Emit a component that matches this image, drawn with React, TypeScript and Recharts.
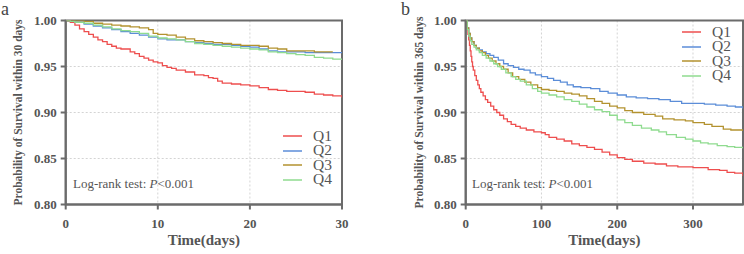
import React from "react";
import { CartesianGrid, Legend, Line, LineChart, ReferenceArea, XAxis, YAxis } from "recharts";

const groups = ["Q1", "Q2", "Q3", "Q4"];
const colors = ["#ee4e4e", "#5b8dd8", "#b3922f", "#8fdb8f"];
const yTicks = [0.8, 0.85, 0.9, 0.95, 1];
const xTicks30 = [0, 10, 20, 30];
const xTicks365 = [0, 100, 200, 300];

// 30-day survival (panel a)
const q1Days30 = [0, 0.5, 1, 1.5, 2, 2.5, 3, 3.5, 4, 4.5, 5, 5.5, 6, 7, 7.5, 8, 8.5, 9, 9.5, 10, 10.5, 11, 11.5, 12, 13, 14, 15, 15.5, 16, 16.5, 17, 18, 19, 20, 21, 22, 23, 24, 25, 26, 27, 28, 29, 30];
const q1Surv30 = [1, 0.998, 0.995, 0.991, 0.988, 0.985, 0.982, 0.979, 0.977, 0.974, 0.972, 0.97, 0.969, 0.966, 0.964, 0.961, 0.959, 0.957, 0.955, 0.954, 0.951, 0.949, 0.948, 0.946, 0.944, 0.941, 0.94, 0.938, 0.937, 0.934, 0.932, 0.931, 0.93, 0.929, 0.927, 0.925, 0.924, 0.923, 0.923, 0.922, 0.92, 0.919, 0.918, 0.916];
const q2Days30 = [0, 0.5, 1, 2, 3, 4, 5, 6, 7, 8, 9, 10, 11, 12, 13, 14, 15, 16, 17, 18, 19, 20, 21, 22, 23, 24, 25, 26, 28, 30];
const q2Surv30 = [1, 0.999, 0.998, 0.996, 0.994, 0.992, 0.99, 0.988, 0.986, 0.984, 0.982, 0.98, 0.979, 0.979, 0.977, 0.976, 0.975, 0.974, 0.974, 0.973, 0.972, 0.971, 0.969, 0.967, 0.966, 0.966, 0.966, 0.965, 0.965, 0.965];
const q3Days30 = [0, 1.5, 2, 3, 4, 5, 6, 7, 8, 9, 9.5, 10, 11, 12, 13, 14, 15, 16, 17, 18, 19, 20, 21, 22, 23, 24, 25, 27, 29];
const q3Surv30 = [1, 1, 0.999, 0.997, 0.996, 0.995, 0.994, 0.993, 0.992, 0.99, 0.986, 0.985, 0.984, 0.982, 0.98, 0.978, 0.977, 0.976, 0.975, 0.974, 0.973, 0.973, 0.972, 0.97, 0.969, 0.967, 0.967, 0.966, 0.966];
const q4Days30 = [0, 0.5, 1, 2, 3, 4, 5, 6, 7, 8, 9, 10, 11, 12, 13, 14, 15, 16, 17, 18, 19, 20, 21, 22, 23, 24, 25, 26, 27, 28, 29, 30];
const q4Surv30 = [1, 0.999, 0.998, 0.997, 0.995, 0.993, 0.991, 0.989, 0.988, 0.986, 0.983, 0.981, 0.98, 0.979, 0.977, 0.975, 0.974, 0.973, 0.972, 0.971, 0.97, 0.969, 0.968, 0.966, 0.965, 0.964, 0.963, 0.962, 0.96, 0.959, 0.958, 0.957];

// 365-day survival (panel b)
const q1Days365 = [0, 1, 2, 3, 4, 5, 6, 7, 8, 9, 10, 12, 14, 16, 18, 20, 23, 26, 29, 33, 37, 41, 45, 50, 55, 60, 66, 72, 80, 90, 100, 105, 110, 120, 130, 140, 150, 160, 170, 180, 190, 200, 210, 220, 235, 250, 265, 280, 300, 320, 335, 345, 355, 366];
const q1Surv365 = [1, 0.995, 0.99, 0.985, 0.979, 0.973, 0.967, 0.961, 0.955, 0.95, 0.946, 0.94, 0.935, 0.93, 0.926, 0.922, 0.918, 0.914, 0.911, 0.907, 0.903, 0.9, 0.897, 0.893, 0.89, 0.887, 0.885, 0.883, 0.881, 0.879, 0.878, 0.876, 0.873, 0.871, 0.869, 0.866, 0.864, 0.862, 0.86, 0.857, 0.854, 0.851, 0.849, 0.847, 0.845, 0.844, 0.842, 0.841, 0.84, 0.838, 0.837, 0.835, 0.834, 0.831];
const q2Days365 = [0, 2, 4, 6, 8, 11, 14, 18, 22, 27, 32, 37, 43, 50, 56, 63, 70, 77, 85, 92, 100, 108, 116, 125, 134, 142, 152, 165, 177, 188, 200, 212, 225, 240, 255, 270, 285, 300, 315, 330, 345, 356, 366];
const q2Surv365 = [1, 0.992, 0.986, 0.981, 0.977, 0.973, 0.97, 0.968, 0.966, 0.964, 0.962, 0.96, 0.957, 0.953, 0.951, 0.949, 0.947, 0.946, 0.943, 0.941, 0.939, 0.937, 0.935, 0.933, 0.93, 0.928, 0.927, 0.926, 0.923, 0.921, 0.919, 0.917, 0.916, 0.915, 0.914, 0.912, 0.91, 0.91, 0.909, 0.908, 0.907, 0.906, 0.904];
const q3Days365 = [0, 2, 4, 6, 8, 11, 14, 18, 22, 26, 30, 35, 40, 45, 50, 56, 62, 70, 78, 86, 95, 100, 110, 120, 130, 140, 150, 160, 170, 180, 190, 200, 210, 220, 235, 250, 260, 275, 290, 300, 315, 325, 340, 350, 366];
const q3Surv365 = [1, 0.992, 0.986, 0.981, 0.977, 0.973, 0.97, 0.967, 0.965, 0.962, 0.959, 0.956, 0.953, 0.95, 0.947, 0.943, 0.939, 0.936, 0.933, 0.93, 0.927, 0.925, 0.924, 0.923, 0.921, 0.92, 0.918, 0.915, 0.912, 0.91, 0.907, 0.905, 0.902, 0.9, 0.898, 0.896, 0.893, 0.892, 0.891, 0.889, 0.887, 0.885, 0.882, 0.881, 0.88];
const q4Days365 = [0, 2, 4, 6, 8, 11, 14, 18, 22, 27, 32, 37, 42, 47, 53, 60, 66, 72, 80, 88, 95, 100, 110, 120, 130, 140, 150, 160, 170, 180, 190, 200, 210, 220, 232, 245, 255, 265, 278, 290, 300, 310, 320, 332, 345, 355, 366];
const q4Surv365 = [1, 0.99, 0.983, 0.978, 0.974, 0.971, 0.968, 0.965, 0.962, 0.959, 0.956, 0.953, 0.95, 0.947, 0.943, 0.939, 0.936, 0.934, 0.93, 0.926, 0.923, 0.921, 0.919, 0.917, 0.914, 0.912, 0.909, 0.906, 0.903, 0.901, 0.897, 0.892, 0.889, 0.886, 0.883, 0.881, 0.879, 0.876, 0.873, 0.871, 0.869, 0.867, 0.866, 0.864, 0.863, 0.862, 0.861];

const zip = (t: number[], s: number[]) => t.map((d, i) => ({ t: d, s: s[i] }));

const panelA = [zip(q1Days30, q1Surv30), zip(q2Days30, q2Surv30), zip(q3Days30, q3Surv30), zip(q4Days30, q4Surv30)];
const panelB = [zip(q1Days365, q1Surv365), zip(q2Days365, q2Surv365), zip(q3Days365, q3Surv365), zip(q4Days365, q4Surv365)];

const serif = "'Liberation Serif', 'Times New Roman', serif";
const axisGray = "#6b6b6b";
const textGray = "#555";
const tickStyle = { fill: textGray, fontSize: 13, fontWeight: 700, fontFamily: serif };

const SideLabel = ({ viewBox, text, cx }: any) => {
  const y = viewBox.y + viewBox.height / 2;
  return (
    <text x={cx} y={y} transform={`rotate(-90 ${cx} ${y})`} textAnchor="middle" dominantBaseline="central"
      fill={textGray} fontSize={11.5} fontWeight={700} fontFamily={serif}>
      {text}
    </text>
  );
};

const BottomLabel = ({ viewBox }: any) => (
  <text x={viewBox.x + viewBox.width / 2} y={viewBox.y + 40.5} textAnchor="middle"
    fill={textGray} fontSize={15} fontWeight={700} fontFamily={serif}>
    Time(days)
  </text>
);

// legend rows: short coloured line + group name
const KeyBox = ({ payload }: any) => (
  <div>
    {(payload || []).map((p: any) => (
      <div key={p.value} style={{ display: "flex", alignItems: "center", height: 14.6 }}>
        <svg width={19} height={4} style={{ marginRight: 11, display: "block" }}>
          <line x1={0} x2={19} y1={2} y2={2} stroke={colors[groups.indexOf(p.value)]} strokeWidth={1.5} />
        </svg>
        <span style={{ fontSize: 15.5, lineHeight: "14.6px", color: textGray, fontFamily: serif }}>{p.value}</span>
      </div>
    ))}
  </div>
);

type PanelProps = {
  series: { t: number; s: number }[][];
  maxDay: number;
  ticks: number[];
  yWidth: number;
  rightGap: number;
  yLabel: string;
  labelX: number;
  legendPos: { left: number; top: number };
};

const SurvivalPanel = ({ series, maxDay, ticks, yWidth, rightGap, yLabel, labelX, legendPos }: PanelProps) => (
  <LineChart width={372} height={254} margin={{ top: 20.5, right: rightGap, left: 0, bottom: 0 }}>
    <CartesianGrid stroke="#d4d4d4" strokeDasharray="2 2" />
    <XAxis type="number" dataKey="t" domain={[0, maxDay]} ticks={ticks} allowDataOverflow height={49.5}
      tick={tickStyle} tickSize={5} tickMargin={9} stroke={axisGray} strokeWidth={2}
      label={<BottomLabel />} />
    <YAxis type="number" domain={[0.8, 1]} ticks={yTicks} allowDataOverflow width={yWidth}
      tick={tickStyle} tickSize={5} tickMargin={4} stroke={axisGray} strokeWidth={2}
      tickFormatter={(v: number) => v.toFixed(2)}
      label={<SideLabel text={yLabel} cx={labelX} />} />
    {series.map((d, i) => (
      <Line key={groups[i]} data={d} dataKey="s" name={groups[i]} type="stepAfter" stroke={colors[i]}
        strokeWidth={1.3} dot={false} activeDot={false} isAnimationActive={false} />
    ))}
    <ReferenceArea x1={0} x2={maxDay} y1={0.8} y2={1} fill="none" stroke={axisGray} strokeWidth={2} />
    <Legend layout="vertical" align="center" verticalAlign="middle" content={<KeyBox />}
      wrapperStyle={{ left: legendPos.left, top: legendPos.top, width: 60, height: 60 }} />
  </LineChart>
);

const noteStyle: React.CSSProperties = {
  position: "absolute", fontSize: 13, fontFamily: serif, color: textGray, whiteSpace: "nowrap", lineHeight: "15px",
};
const tagStyle: React.CSSProperties = {
  position: "absolute", fontSize: 18, fontFamily: serif, color: "#444", lineHeight: "18px",
};

export default function App() {
  return (
    <div style={{ position: "absolute", left: 0, top: 0, width: 744, height: 254, background: "#fff" }}>
      <div style={{ position: "absolute", left: 0, top: 0 }}>
        <SurvivalPanel series={panelA} maxDay={30} ticks={xTicks30} yWidth={65.7} rightGap={30}
          yLabel="Probability of Survival within 30 days" labelX={18} legendPos={{ left: 283, top: 128.7 }} />
      </div>
      <div style={{ position: "absolute", left: 372, top: 0 }}>
        <SurvivalPanel series={panelB} maxDay={366} ticks={xTicks365} yWidth={93.7} rightGap={1}
          yLabel="Probability of Survival within 365 days" labelX={47} legendPos={{ left: 310, top: 24.7 }} />
      </div>
      <div style={{ ...noteStyle, left: 73, top: 176 }}>Log-rank test: <i>P</i>&lt;0.001</div>
      <div style={{ ...noteStyle, left: 472, top: 176 }}>Log-rank test: <i>P</i>&lt;0.001</div>
      <div style={{ ...tagStyle, left: 1, top: 0 }}>a</div>
      <div style={{ ...tagStyle, left: 401, top: 0 }}>b</div>
    </div>
  );
}
